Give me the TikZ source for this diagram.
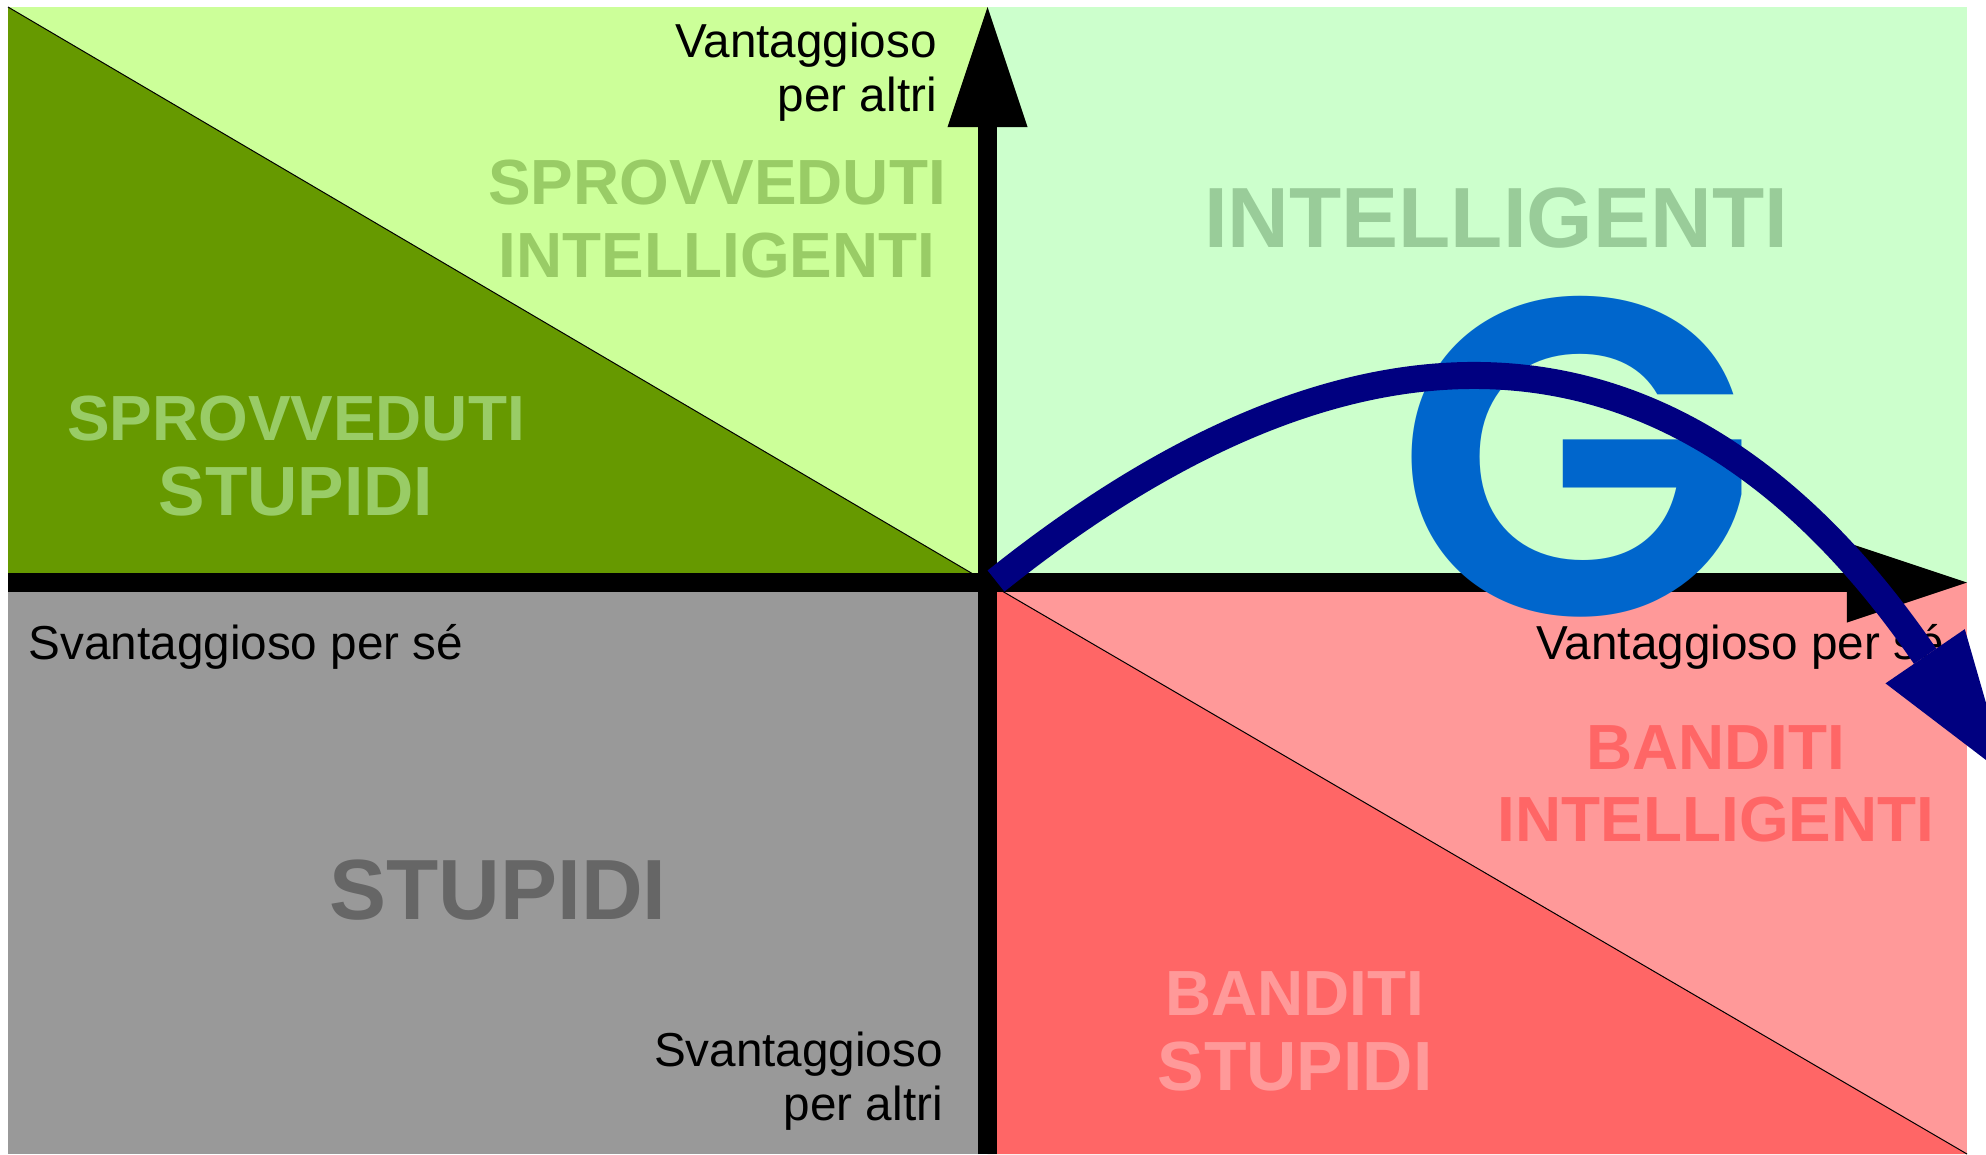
\documentclass[tikz,border=0pt]{standalone}
\usepackage{fontspec}
\usepackage{tikz}
\usetikzlibrary{arrows.meta}
\setmainfont{Liberation Sans}
\newfontfamily\gfont{Poppins SemiBold}
\definecolor{lightgreen}{HTML}{CCFF99}
\definecolor{darkgreen}{HTML}{669900}
\definecolor{palegreen}{HTML}{CCFFCC}
\definecolor{midgray}{HTML}{999999}
\definecolor{darkred}{HTML}{FF6666}
\definecolor{lightred}{HTML}{FF9999}
\definecolor{greentext}{HTML}{99CC66}
\definecolor{intelltext}{HTML}{99CC99}
\definecolor{gblue}{HTML}{0066CC}
\definecolor{curveblue}{HTML}{000080}
\newcommand{\bigline}[1]{{\fontsize{19.8}{20.6}\selectfont #1}}
\tikzset{
	axisline/.style={line width=0.19cm,-{Triangle[length=1.2cm,width=0.8cm,line width=0pt]}},
	curveline/.style={line width=0.27cm,curveblue,-{Triangle[length=1.45cm,width=0.96cm,line width=0pt]}},
	smalllabel/.style={inner sep=0,font=\fontsize{13.55}{15.4}\selectfont},
	grouplabel/.style={inner sep=0,align=center,font=\fontsize{18.15}{20.6}\selectfont\bfseries},
	biglabel/.style={inner sep=0,font=\fontsize{24.3}{27}\selectfont\bfseries}
}
\begin{document}
\begin{tikzpicture}[x=0.01cm,y=-0.01cm]
	\clip (0,0) rectangle (1986,1154);
	
	\fill[lightgreen](8,7) rectangle (987.5,582.5);
	\fill[palegreen](987.5,7) rectangle (1967,582.5);
	\fill[midgray](8,582.5) rectangle (987.5,1154);
	\fill[lightred](987.5,582.5) rectangle (1967,1154);
	
	\fill[darkgreen](8,7)--(987.5,582.5)--(8,582.5)--cycle;
	\fill[darkred](987.5,582.5)--(1967,1154)--(987.5,1154)--cycle;
	\draw[line width=0.01cm](8,7)--(987.5,582.5);
	\draw[line width=0.01cm](987.5,582.5)--(1967,1154);
	
	\node[grouplabel,greentext] (sprint) at (717,219){SPROVVEDUTI\\INTELLIGENTI};
	\node[grouplabel,greentext] (sprstu) at (296,456){SPROVVEDUTI\\[0.7pt]\bigline{STUPIDI}};
	\node[biglabel,intelltext] (intell) at (1496,218){INTELLIGENTI};
	\node[biglabel,black!60] (stupidi) at (498,890){STUPIDI};
	\node[grouplabel,darkred] (banint) at (1716,784){BANDITI\\INTELLIGENTI};
	\node[grouplabel,lightred] (banstu) at (1295,1031){BANDITI\\[0.7pt]\bigline{STUPIDI}};
	
	\node[smalllabel,align=right,anchor=east] (upaxis) at (937.5,72){Vantaggioso\\per altri};
	\node[smalllabel,align=right,anchor=east] (downaxis) at (943.5,1081){Svantaggioso\\per altri};
	\node[smalllabel,anchor=west] (leftaxis) at (28,647){Svantaggioso per sé};
	\node[smalllabel,anchor=west] (rightaxis) at (1536,647){Vantaggioso per sé};
	
	\coordinate (west) at (8,582.5);
	\coordinate (east) at (1967,582.5);
	\coordinate (south) at (987.5,1154);
	\coordinate (north) at (987.5,7);
	\draw[axisline](west)--(east);
	\draw[axisline](south)--(north);
	
	\node[inner sep=0,gblue,font=\fontsize{128}{128}\gfont,xscale=1.05,transform shape] (gletter) at (1577,457){G};
	
	\coordinate (start) at (996,581);
	\coordinate (tip) at (2007,776);
	\draw[curveline](start) .. controls (1370,282) and (1689,311) .. (tip);
\end{tikzpicture}
\end{document}
